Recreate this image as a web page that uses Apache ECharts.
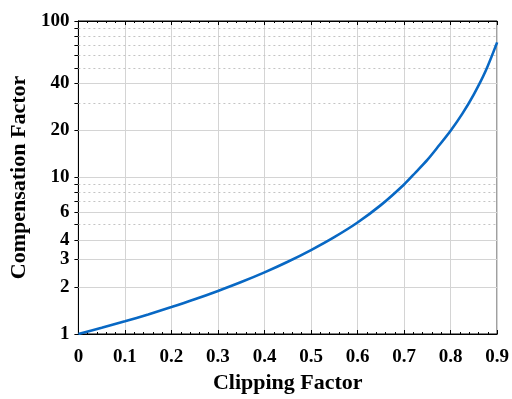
<!DOCTYPE html>
<html><head><meta charset="utf-8">
<script src="https://cdn.jsdelivr.net/npm/echarts@6/dist/echarts.min.js"></script>
<style>html,body{margin:0;padding:0;background:#fff}#c{width:512px;height:399px}</style>
</head><body><div id="c"></div>
<script>
// Data
const clipping = [0, 0.05, 0.1, 0.15, 0.2, 0.25, 0.3, 0.35, 0.4, 0.45, 0.5, 0.55, 0.6, 0.65, 0.7, 0.725, 0.75, 0.775, 0.8, 0.825, 0.85, 0.875, 0.9];
const compensation = [1, 1.095, 1.206, 1.334, 1.486, 1.666, 1.884, 2.148, 2.476, 2.895, 3.44, 4.16, 5.16, 6.66, 9.03, 10.8, 12.96, 16.0, 19.9, 25.5, 34.0, 47.7, 73];
const yTickLabels = [1, 2, 3, 4, 6, 10, 20, 40, 100];
const yMajorGrid = [2, 3, 4, 6, 10, 20, 40];
const yMinorGrid = [5, 7, 8, 9, 30, 50, 60, 70, 80, 90];
const yAllTicks = [1, 2, 3, 4, 5, 6, 7, 8, 9, 10, 20, 30, 40, 50, 60, 70, 80, 90, 100];

const font = 'Liberation Serif';
const chart = echarts.init(document.getElementById('c'));
const pts = clipping.map((x, i) => [x, compensation[i]]);

chart.setOption({
  animation: false,
  backgroundColor: '#fff',
  grid: { left: 78, right: 12, top: 21, bottom: 60, show: true, borderColor: '#000', borderWidth: 1, backgroundColor: 'transparent' },
  xAxis: [{
    type: 'value', min: 0, max: 0.9, interval: 0.1,
    name: 'Clipping Factor', nameLocation: 'middle', nameGap: 38,
    nameTextStyle: { fontFamily: font, fontWeight: 'bold', fontSize: 22, color: '#000' },
    axisLine: { show: true, lineStyle: { color: '#000', width: 1 } },
    axisTick: { show: true, inside: true, length: 4, lineStyle: { color: '#000' } },
    minorTick: { show: true, splitNumber: 5, length: 2, lineStyle: { color: '#000' } },
    axisLabel: { fontFamily: font, fontWeight: 'bold', fontSize: 19, color: '#000', margin: 14,
      formatter: v => (Math.round(v * 10) / 10).toString() },
    splitLine: { show: true, lineStyle: { color: '#d4d4d4', width: 1 } }
  }, {
    type: 'value', min: 0, max: 0.9, interval: 0.1, position: 'top',
    axisLine: { show: true, lineStyle: { color: '#000' } },
    axisTick: { show: true, inside: true, length: 4, lineStyle: { color: '#000' } },
    minorTick: { show: true, splitNumber: 5, length: 2, lineStyle: { color: '#000' } },
    axisLabel: { show: false }, splitLine: { show: false }
  }],
  yAxis: [{
    type: 'log', logBase: 10, min: 1, max: 100,
    name: 'Compensation Factor', nameLocation: 'middle', nameGap: 44,
    nameTextStyle: { fontFamily: font, fontWeight: 'bold', fontSize: 22, color: '#000' },
    axisLine: { show: true, lineStyle: { color: '#000' } },
    axisTick: { show: true, inside: true, length: 4, customValues: yTickLabels, lineStyle: { color: '#000' } },
    axisLabel: { fontFamily: font, fontWeight: 'bold', fontSize: 19, color: '#000', margin: 9,
      customValues: yTickLabels, formatter: v => String(Math.round(v)) },
    splitLine: { show: false }, minorTick: { show: false }, minorSplitLine: { show: false }
  }, {
    type: 'log', logBase: 10, min: 1, max: 100, position: 'right',
    axisLine: { show: true, lineStyle: { color: '#000' } },
    axisTick: { show: true, inside: true, length: 4, customValues: yAllTicks, lineStyle: { color: '#000' } },
    axisLabel: { show: false }, splitLine: { show: false }
  }],
  series: [{
    type: 'line', xAxisIndex: 0, yAxisIndex: 0, data: pts, smooth: 0.3, showSymbol: false,
    lineStyle: { color: '#0868c4', width: 2.6 },
    z: 5,
    markLine: {
      silent: true, symbol: 'none', label: { show: false }, animation: false,
      data: yMajorGrid.map(v => ({ yAxis: v, lineStyle: { type: 'solid', color: '#d4d4d4', width: 1 } }))
        .concat(yMinorGrid.map(v => ({ yAxis: v, lineStyle: { type: [2, 3], color: '#c4c4c4', width: 1 } })))
    }
  }]
});
</script></body></html>
